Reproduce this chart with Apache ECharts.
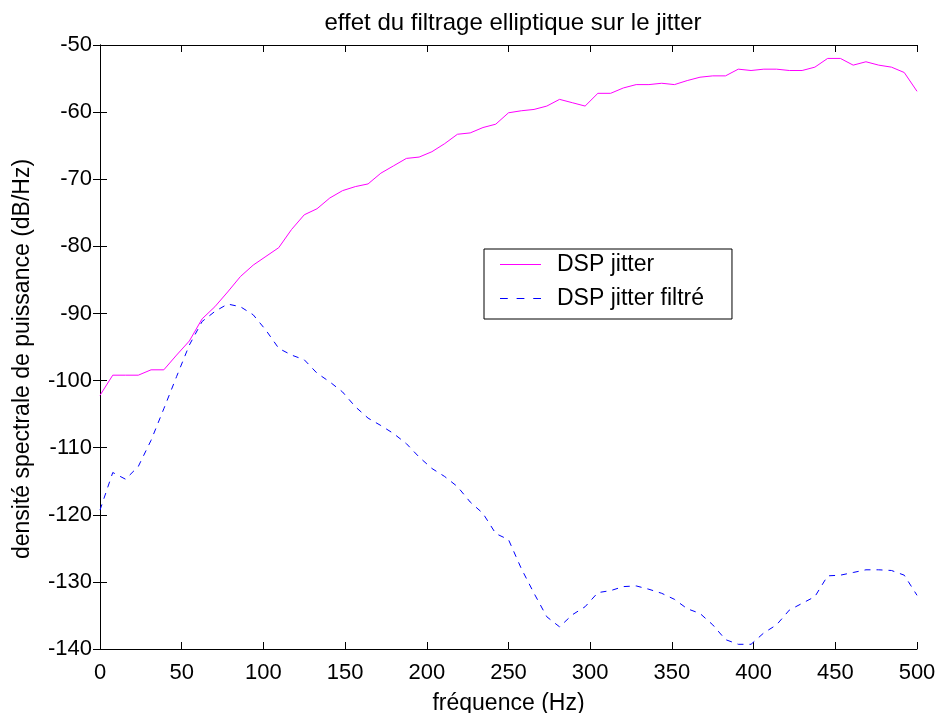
<!DOCTYPE html>
<html>
<head>
    <meta charset="utf-8"/>
    <title>effet du filtrage elliptique sur le jitter</title>
    <script src="https://cdn.jsdelivr.net/npm/echarts@6/dist/echarts.min.js"></script>
    <style>
        html, body { margin: 0; padding: 0; background: #fff; }
        #chart { width: 940px; height: 713px; }
    </style>
</head>
<body>
<div id="chart"></div>
<script>
    // frequency bins (Hz), 65 points from 0 to 500
    var freq = [0, 7.81, 15.63, 23.44, 31.25, 39.06, 46.88, 54.69, 62.5, 70.31, 78.13, 85.94, 93.75,
        101.56, 109.38, 117.19, 125, 132.81, 140.63, 148.44, 156.25, 164.06, 171.88, 179.69, 187.5,
        195.31, 203.13, 210.94, 218.75, 226.56, 234.38, 242.19, 250, 257.81, 265.63, 273.44, 281.25,
        289.06, 296.88, 304.69, 312.5, 320.31, 328.13, 335.94, 343.75, 351.56, 359.38, 367.19, 375,
        382.81, 390.63, 398.44, 406.25, 414.06, 421.88, 429.69, 437.5, 445.31, 453.13, 460.94, 468.75,
        476.56, 484.38, 492.19, 500];

    // DSP jitter (dB/Hz)
    var dspJitter = [-102.2, -99.2, -99.2, -99.2, -98.4, -98.4, -96.2, -94.1, -90.8, -89.0, -86.8, -84.5, -82.8,
        -81.5, -80.2, -77.5, -75.3, -74.4, -72.8, -71.7, -71.1, -70.7, -69.1, -68.0, -66.9,
        -66.7, -65.9, -64.7, -63.3, -63.1, -62.3, -61.8, -60.1, -59.8, -59.6, -59.1, -58.1,
        -58.6, -59.1, -57.2, -57.2, -56.4, -55.9, -55.9, -55.7, -55.9, -55.3, -54.8, -54.6,
        -54.6, -53.6, -53.8, -53.6, -53.6, -53.8, -53.8, -53.3, -52.0, -52.0, -53.0, -52.5,
        -53.0, -53.3, -54.1, -56.9];

    // DSP jitter filtré (dB/Hz)
    var dspFiltre = [-119.3, -113.7, -114.7, -112.8, -108.9, -104.2, -99.4, -94.7, -91.2, -89.7, -88.6, -89.0, -90.2,
        -92.5, -95.2, -96.2, -96.9, -98.9, -100.2, -101.7, -103.9, -105.6, -106.7, -107.9, -109.4,
        -111.4, -113.1, -114.3, -115.8, -118.1, -119.8, -122.8, -123.7, -128.0, -131.7, -135.2, -136.7,
        -134.9, -133.7, -131.6, -131.3, -130.7, -130.6, -131.1, -131.7, -132.6, -134.0, -134.7, -136.4,
        -138.6, -139.3, -139.3, -137.6, -136.4, -134.2, -133.2, -132.2, -129.1, -129.0, -128.6, -128.2,
        -128.2, -128.3, -129.0, -132.0];

    function pairs(xs, ys) {
        var out = [];
        for (var i = 0; i < xs.length; i++) {
            out.push([xs[i], ys[i]]);
        }
        return out;
    }

    var font = 'Arial, "Liberation Sans", Helvetica, sans-serif';
    var axisLine = {show: true, lineStyle: {color: '#000', width: 1}};
    var tickIn = {show: true, inside: true, length: 7, lineStyle: {color: '#000'}};

    var myChart = echarts.init(document.getElementById('chart'));
    var option = {
        backgroundColor: '#fff',
        animation: false,
        title: {
            text: 'effet du filtrage elliptique sur le jitter',
            left: 508,
            textAlign: 'center',
            top: 6,
            textStyle: {fontFamily: font, fontSize: 24, fontWeight: 'normal', color: '#000'}
        },
        legend: {
            orient: 'vertical',
            left: 484,
            top: 249,
            padding: [4, 28, 9, 16],
            itemGap: 11,
            itemWidth: 41,
            itemHeight: 2,
            backgroundColor: '#fff',
            borderColor: '#000',
            borderWidth: 1,
            borderRadius: 0,
            textStyle: {fontFamily: font, fontSize: 23, color: '#000', padding: [0, 0, 0, 11]},
            data: [
                {name: 'DSP jitter', icon: 'path://M0,0H40V1H0Z'},
                {name: 'DSP jitter filtré', icon: 'path://M0,0H7V1H0Z M15,0H22V1H15Z M30,0H37V1H30Z'}
            ]
        },
        grid: {
            left: 100,
            right: 23,
            top: 45,
            bottom: 64,
            containLabel: false,
            outerBoundsMode: 'none'
        },
        xAxis: [{
            type: 'value',
            min: 0,
            max: 500,
            interval: 50,
            name: 'fréquence (Hz)',
            nameLocation: 'middle',
            nameGap: 43,
            nameTextStyle: {fontFamily: font, fontSize: 23, color: '#000'},
            axisLine: axisLine,
            axisTick: tickIn,
            splitLine: {show: false},
            axisLabel: {fontFamily: font, fontSize: 22, color: '#000', margin: 13}
        }, {
            type: 'value',
            position: 'top',
            min: 0,
            max: 500,
            interval: 50,
            axisLine: axisLine,
            axisTick: tickIn,
            splitLine: {show: false},
            axisLabel: {show: false}
        }],
        yAxis: [{
            type: 'value',
            min: -140,
            max: -50,
            interval: 10,
            name: 'densité spectrale de puissance (dB/Hz)',
            nameLocation: 'middle',
            nameGap: 66,
            nameTextStyle: {fontFamily: font, fontSize: 23, color: '#000', padding: [0, 24, 0, 0]},
            axisLine: axisLine,
            axisTick: tickIn,
            splitLine: {show: false},
            axisLabel: {fontFamily: font, fontSize: 22, color: '#000', margin: 8}
        }, {
            type: 'value',
            position: 'right',
            min: -140,
            max: -50,
            interval: 10,
            axisLine: axisLine,
            axisTick: tickIn,
            splitLine: {show: false},
            axisLabel: {show: false}
        }],
        series: [{
            name: 'DSP jitter',
            type: 'line',
            symbol: 'none',
            color: '#ff00ff',
            lineStyle: {color: '#ff00ff', width: 1},
            data: pairs(freq, dspJitter)
        }, {
            name: 'DSP jitter filtré',
            type: 'line',
            symbol: 'none',
            color: '#0000ff',
            lineStyle: {color: '#0000ff', width: 1, type: [6, 6]},
            data: pairs(freq, dspFiltre)
        }]
    };
    myChart.setOption(option);
</script>
</body>
</html>
